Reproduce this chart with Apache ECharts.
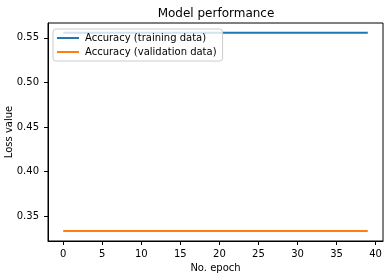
<!DOCTYPE html>
<html>
<head>
<meta charset="utf-8">
<script src="https://cdn.jsdelivr.net/npm/echarts@6/dist/echarts.min.js"></script>
<style>html,body{margin:0;padding:0;background:#fff}#c{width:391px;height:280px}</style>
</head>
<body>
<div id="c"></div>
<script>
var epochs = [0,1,2,3,4,5,6,7,8,9,10,11,12,13,14,15,16,17,18,19,20,21,22,23,24,25,26,27,28,29,30,31,32,33,34,35,36,37,38,39];
var trainAcc = [0.5556,0.5556,0.5556,0.5556,0.5556,0.5556,0.5556,0.5556,0.5556,0.5556,0.5556,0.5556,0.5556,0.5556,0.5556,0.5556,0.5556,0.5556,0.5556,0.5556,0.5556,0.5556,0.5556,0.5556,0.5556,0.5556,0.5556,0.5556,0.5556,0.5556,0.5556,0.5556,0.5556,0.5556,0.5556,0.5556,0.5556,0.5556,0.5556,0.5556];
var valAcc = [0.3333,0.3333,0.3333,0.3333,0.3333,0.3333,0.3333,0.3333,0.3333,0.3333,0.3333,0.3333,0.3333,0.3333,0.3333,0.3333,0.3333,0.3333,0.3333,0.3333,0.3333,0.3333,0.3333,0.3333,0.3333,0.3333,0.3333,0.3333,0.3333,0.3333,0.3333,0.3333,0.3333,0.3333,0.3333,0.3333,0.3333,0.3333,0.3333,0.3333];
var xTicks = [0,5,10,15,20,25,30,35,40];
var yTicks = [0.35,0.40,0.45,0.50,0.55];
var seriesNames = ['Accuracy (training data)','Accuracy (validation data)'];
var titleText = 'Model performance';
var xName = 'No. epoch';
var yName = 'Loss value';

function pairs(xs, ys){ return xs.map(function(x,i){ return [x, ys[i]]; }); }

var font = 'DejaVu Sans';
var chart = echarts.init(document.getElementById('c'), null, {renderer:'canvas'});
chart.setOption({
  animation: false,
  backgroundColor: '#fff',
  textStyle: {fontFamily: font},
  title: {
    text: titleText, left: 216, textAlign: 'center', top: 8, padding: 0,
    textStyle: {fontFamily: font, fontSize: 12, fontWeight: 'normal', color: '#000'}
  },
  grid: {left: 48, right: 8, top: 23, bottom: 39, show: true, borderColor: '#000', borderWidth: 1,
    backgroundColor: 'transparent', containLabel: false, outerBoundsMode: 'none'},
  legend: {
    orient: 'vertical', left: 53, top: 29,
    padding: [3, 6, 3, 4],
    itemGap: 2, itemWidth: 22, itemHeight: 2,
    icon: 'rect',
    backgroundColor: 'rgba(255,255,255,0.8)', borderColor: '#cccccc', borderWidth: 1, borderRadius: 3,
    textStyle: {fontFamily: font, fontSize: 10, color: '#000', lineHeight: 12, padding: [0,0,0,1]},
    data: seriesNames
  },
  xAxis: {
    type: 'value', min: -1.95, max: 40.95,
    name: xName, nameLocation: 'middle', nameGap: 21,
    nameTextStyle: {fontFamily: font, fontSize: 10, color: '#000'},
    axisLine: {show: true, onZero: false, lineStyle: {color: '#000', width: 1}},
    axisTick: {show: true, length: 4, customValues: xTicks, lineStyle: {color: '#000'}},
    axisLabel: {customValues: xTicks, margin: 8, fontFamily: font, fontSize: 10, color: '#000'},
    splitLine: {show: false}
  },
  yAxis: {
    type: 'value', min: 0.32222, max: 0.56667,
    name: yName, nameLocation: 'middle', nameGap: 34, nameMoveOverlap: false,
    nameTextStyle: {fontFamily: font, fontSize: 10, color: '#000'},
    axisLine: {show: true, onZero: false, lineStyle: {color: '#000', width: 1}},
    axisTick: {show: true, length: 4, customValues: yTicks, lineStyle: {color: '#000'}},
    axisLabel: {customValues: yTicks, margin: 9, fontFamily: font, fontSize: 10, color: '#000',
      formatter: function(v){ return v.toFixed(2); }},
    splitLine: {show: false}
  },
  series: [
    {name: seriesNames[0], type: 'line', data: pairs(epochs, trainAcc), showSymbol: false, symbol: 'none',
     itemStyle: {color: '#1f77b4'}, lineStyle: {color: '#1f77b4', width: 2}, z: 2},
    {name: seriesNames[1], type: 'line', data: pairs(epochs, valAcc), showSymbol: false, symbol: 'none',
     itemStyle: {color: '#ff7f0e'}, lineStyle: {color: '#ff7f0e', width: 2}, z: 2}
  ]
});
</script>
</body>
</html>
